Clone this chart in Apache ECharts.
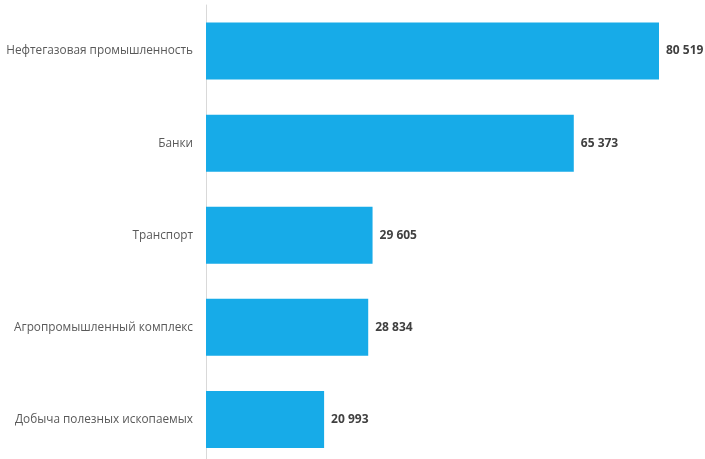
<!DOCTYPE html>
<html>
<head>
<meta charset="utf-8">
<script src="https://cdn.jsdelivr.net/npm/echarts@6/dist/echarts.min.js"></script>
<style>
    html, body { margin: 0; padding: 0; background: #fff; overflow: hidden; }
    #chart { width: 705px; height: 470px; }
</style>
</head>
<body>
<div id="chart"></div>
<script>
    var categories = [
        'Нефтегазовая промышленность',
        'Банки',
        'Транспорт',
        'Агропромышленный комплекс',
        'Добыча полезных ископаемых'
    ];
    var values = [80519, 65373, 29605, 28834, 20993];

    function fmt(v) {
        return String(v).replace(/\B(?=(\d{3})+(?!\d))/g, ' ');
    }

    var chart = echarts.init(document.getElementById('chart'));
    var option = {
        animation: false,
        grid: {
            left: 206,
            right: 46,
            top: 5,
            height: 460.5
        },
        xAxis: {
            type: 'value',
            min: 0,
            max: 80519,
            show: false
        },
        yAxis: {
            type: 'category',
            inverse: true,
            data: categories,
            axisLine: { show: true, lineStyle: { color: '#d9d9d9', width: 1 } },
            axisTick: { show: false },
            axisLabel: {
                margin: 13,
                color: '#595959',
                fontFamily: 'Open Sans',
                fontSize: 11.8
            }
        },
        series: [{
            type: 'bar',
            data: values,
            barWidth: 57,
            itemStyle: { color: '#17ABE8' },
            label: {
                show: true,
                position: 'right',
                distance: 7,
                color: '#404040',
                fontFamily: 'Open Sans',
                fontWeight: 'bold',
                fontSize: 12,
                formatter: function (p) { return fmt(p.value); }
            }
        }]
    };
    chart.setOption(option);
</script>
</body>
</html>
